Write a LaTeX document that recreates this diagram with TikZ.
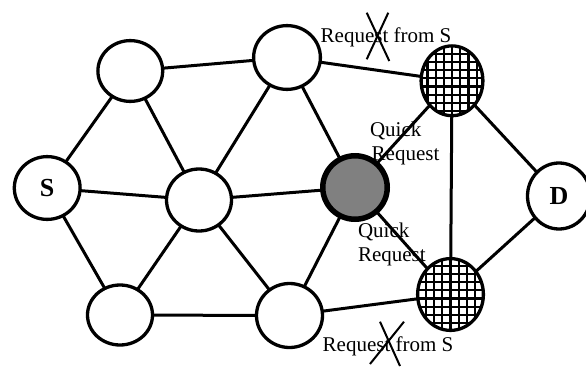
\documentclass[tikz,border=0pt]{standalone}
\usepackage{fontspec}
\setmainfont{Liberation Serif}
\usetikzlibrary{shapes.geometric,backgrounds}
\definecolor{nodegray}{HTML}{808080}
\begin{document}
\begin{tikzpicture}[x=1pt,y=-1pt,
  nd/.style 2 args={ellipse,draw,line width=3.3pt,fill=white,inner sep=0pt,outer sep=0pt,
    minimum width=#1,minimum height=#2,font=\fontsize{26}{28}\selectfont\bfseries},
  hub/.style={line width=5.5pt,fill=nodegray},
  hatch/.style={path picture={
    \foreach \k in {-6,...,6}{
      \draw[line width=2.2pt] ([xshift=\k*8.2pt]path picture bounding box.north) -- ([xshift=\k*8.2pt]path picture bounding box.south);
      \draw[line width=2.2pt] ([yshift=\k*8.2pt+#1]path picture bounding box.west) -- ([yshift=\k*8.2pt+#1]path picture bounding box.east);
    }}},
  edge/.style={line width=3pt},
  lbl/.style={inner sep=0pt,outer sep=0pt,anchor=base west,font=\fontsize{21}{24}\selectfont},
  xmark/.style={line width=2pt}]
\useasboundingbox (0,0) rectangle (586,367);

\node[nd={65.8pt}{62.8pt}] (S) at (47.2,188) {S};
\node[nd={64.8pt}{60.8pt}] (TL) at (130.3,71) {};
\node[nd={65pt}{62pt}] (C) at (199,200) {};
\node[nd={65pt}{60pt}] (BL) at (120,315) {};
\node[nd={66.8pt}{63.8pt}] (TM) at (287,57.5) {};
\node[nd={66pt}{64pt}] (BM) at (289.5,315.5) {};
\node[nd={64.5pt}{63.5pt},hub] (G) at (355,187.5) {};
\node[nd={61.8pt}{69.8pt},hatch=2.5pt] (TH) at (452,80.8) {};
\node[nd={65.8pt}{71.8pt},hatch=-4pt] (BH) at (450.5,294.5) {};
\node[nd={63pt}{66pt}] (D) at (559,196) {D};

\begin{pgfonlayer}{background}
\draw[edge] (S) -- (TL);
\draw[edge] (S) -- (C);
\draw[edge] (S) -- (BL);
\draw[edge] (TL) -- (TM);
\draw[edge] (TL) -- (C);
\draw[edge] (C) -- (TM);
\draw[edge] (C) -- (G);
\draw[edge] (C) -- (BL);
\draw[edge] (C) -- (BM);
\draw[edge] (BL) -- (BM);
\draw[edge] (TM) -- (G);
\draw[edge] (TM) -- (TH);
\draw[edge] (G) -- (TH);
\draw[edge] (G) -- (BH);
\draw[edge] (G) -- (BM);
\draw[edge] (BM) -- (BH);
\draw[edge] (TH) -- (BH);
\draw[edge] (TH) -- (D);
\draw[edge] (BH) -- (D);
\end{pgfonlayer}

\node[lbl] (rq1) at (320.7,42.7) {Request from S};
\draw[xmark] (366.7,12.7) -- (389.3,61);
\draw[xmark] (388.3,12.7) -- (366.7,59.3);
\node[lbl] (qu1) at (370,136) {Quick};
\node[lbl] (qu2) at (371.7,160) {Request};
\node[lbl] (ql1) at (358,237) {Quick};
\node[lbl] (ql2) at (358,261.5) {Request};
\node[lbl] (rq2) at (322.7,351) {Request from S};
\draw[xmark] (380,321.7) -- (400,366);
\draw[xmark] (404,321.7) -- (370,364);
\end{tikzpicture}
\end{document}
